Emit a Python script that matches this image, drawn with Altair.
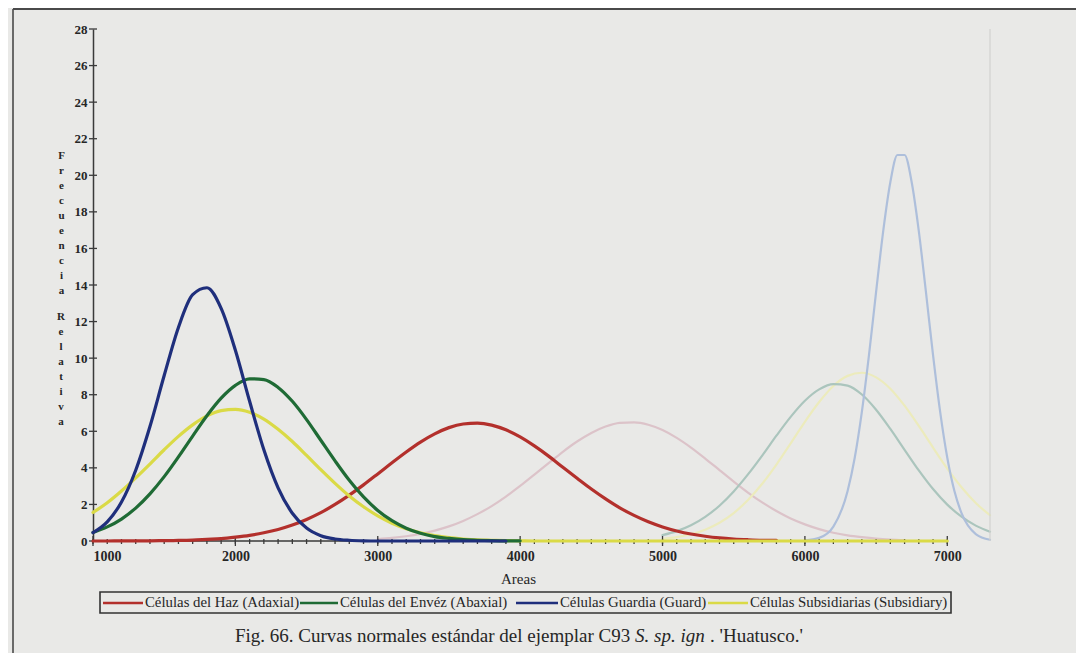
import altair as alt
import pandas as pd

# ---------------- data ----------------
AREAS = list(range(1000, 7001, 100))           # x grid, 100-unit steps
X_LABELS = [1000, 2000, 3000, 4000, 5000, 6000, 7000]
Y_TICKS = [0, 2, 4, 6, 8, 10, 12, 14, 16, 18, 20, 22, 24, 26, 28]

SERIES = [
    "Células del Haz (Adaxial)",
    "Células del Envéz (Abaxial)",
    "Células Guardia (Guard)",
    "Células Subsidiarias (Subsidiary)",
]

# Células del Haz (Adaxial): 1000 .. 5800
HAZ = [0.00, 0.00, 0.01, 0.01, 0.01, 0.02, 0.03, 0.05, 0.09, 0.13,
       0.21, 0.31, 0.45, 0.63, 0.87, 1.18, 1.55, 2.00, 2.51, 3.07,
       3.67, 4.28, 4.87, 5.41, 5.86, 6.20, 6.40, 6.45, 6.34, 6.08,
       5.69, 5.20, 4.64, 4.03, 3.43, 2.84, 2.30, 1.81, 1.40, 1.05,
       0.77, 0.55, 0.38, 0.26, 0.17, 0.11, 0.07, 0.04, 0.03]

# Células del Envéz (Abaxial): 1000 .. 4000
ENVEZ = [0.47, 0.77, 1.20, 1.80, 2.58, 3.52, 4.60, 5.74, 6.85, 7.81,
         8.51, 8.87, 8.83, 8.40, 7.64, 6.64, 5.51, 4.38, 3.32, 2.41,
         1.67, 1.11, 0.70, 0.42, 0.24, 0.14, 0.07, 0.04, 0.02, 0.01,
         0.01]

# Células Guardia (Guard): 1000 .. 3900
GUARDIA = [0.46, 1.05, 2.13, 3.87, 6.26, 9.05, 11.68, 13.47, 13.85, 12.72,
           10.43, 7.64, 4.99, 2.91, 1.52, 0.71, 0.29, 0.11, 0.04, 0.01,
           0.00, 0.00, 0.00, 0.00, 0.00, 0.00, 0.00, 0.00, 0.00, 0.00]

# Células Subsidiarias (Subsidiary): 1000 .. 7000
SUBSID = [1.56, 2.09, 2.73, 3.45, 4.21, 4.99, 5.72, 6.35, 6.84, 7.13,
          7.20, 7.04, 6.67, 6.11, 5.44, 4.68, 3.90, 3.15, 2.46, 1.87,
          1.37, 0.97, 0.67, 0.45, 0.29, 0.18, 0.11, 0.06, 0.04, 0.02,
          0.01, 0.00, 0.00, 0.00, 0.00, 0.00, 0.00, 0.00, 0.00, 0.00,
          0.00, 0.00, 0.00, 0.00, 0.00, 0.00, 0.00, 0.00, 0.00, 0.00,
          0.00, 0.00, 0.00, 0.00, 0.00, 0.00, 0.00, 0.00, 0.00, 0.00,
          0.00]

# faint curves showing through from the reverse side of the page
GHOST_RED_X = list(range(3000, 6701, 100))
GHOST_RED = [0.11, 0.17, 0.26, 0.39, 0.57, 0.80, 1.10, 1.47, 1.91, 2.43,
             3.01, 3.63, 4.26, 4.88, 5.44, 5.91, 6.26, 6.46, 6.49, 6.36,
             6.07, 5.64, 5.11, 4.51, 3.88, 3.25, 2.65, 2.11, 1.64, 1.23,
             0.91, 0.65, 0.45, 0.31, 0.21, 0.13, 0.08, 0.05]
GHOST_GREEN_X = list(range(5000, 7301, 100))
GHOST_GREEN = [0.32, 0.54, 0.86, 1.32, 1.93, 2.71, 3.64, 4.67, 5.76, 6.79,
               7.67, 8.29, 8.58, 8.50, 8.01, 7.18, 6.13, 4.99, 3.86, 2.84,
               1.99, 1.33, 0.84, 0.51]
GHOST_YELLOW_X = list(range(5000, 7301, 100))
GHOST_YELLOW = [0.12, 0.21, 0.37, 0.62, 1.00, 1.53, 2.24, 3.13, 4.18, 5.34,
                6.52, 7.60, 8.48, 9.03, 9.20, 8.95, 8.33, 7.40, 6.29, 5.11,
                3.96, 2.94, 2.08, 1.41]
GHOST_BLUE_X = [6000, 6100, 6200, 6300, 6350, 6400, 6450, 6500, 6550, 6600,
                6650, 6700, 6750, 6800, 6850, 6900, 6950, 7000, 7050, 7100,
                7200, 7300]
GHOST_BLUE = [0.03, 0.17, 0.79, 2.73, 4.55, 7.06, 10.16, 13.62, 16.95, 19.62,
              21.11, 21.11, 19.62, 16.95, 13.62, 10.16, 7.06, 4.55, 2.73, 1.52,
              0.38, 0.07]

Y_TITLE_1 = ["F", "r", "e", "c", "u", "e", "n", "c", "i", "a"]
Y_TITLE_2 = ["R", "e", "l", "a", "t", "i", "v", "a"]
CAPTION_1 = "Fig. 66. Curvas normales estándar del ejemplar C93"
CAPTION_2 = "S. sp. ign"
CAPTION_3 = ". 'Huatusco.'"

# ---------------- styling ----------------
FONT = "Liberation Serif"
INK = "#262626"
BG = "#e9e9e7"
COLORS = ["#b3302c", "#1f6b35", "#1f2f7c", "#dada46"]
GHOST = {"red": "#dcc3c9", "green": "#abc5bd", "blue": "#aebfdb", "yellow": "#ecebbc"}

x_scale = alt.Scale(domain=[1000, 7300], nice=False, zero=False)
y_scale = alt.Scale(domain=[0, 28], nice=False)

x_axis = alt.Axis(values=X_LABELS, format="d", domain=False, ticks=False, grid=False,
                  labelFont=FONT, labelFontSize=14, labelFontWeight="bold",
                  labelColor=INK, labelPadding=8,
                  title="Areas", titleFont=FONT, titleFontSize=15,
                  titleFontWeight="normal", titleColor=INK,
                  titleX=425, titleY=37, titleBaseline="middle")
y_axis = alt.Axis(values=Y_TICKS, format="d", domain=True, domainColor="#3a3a3a",
                  domainWidth=1.5, ticks=False, grid=False,
                  labelFont=FONT, labelFontSize=13, labelFontWeight="bold",
                  labelColor=INK, labelPadding=6,
                  title=Y_TITLE_1, titleAngle=0, titleX=-32, titleY=126,
                  titleBaseline="middle", titleAlign="center",
                  titleFont=FONT, titleFontSize=11, titleFontWeight="bold",
                  titleColor=INK, titleLineHeight=15)


def X(field):
    return alt.X(field, scale=x_scale, axis=x_axis, title="Areas")


def Y(field):
    return alt.Y(field, scale=y_scale, axis=y_axis, title=Y_TITLE_1)


def curve(xs, ys, color, width):
    df = pd.DataFrame({"Areas": xs[:len(ys)], "Frecuencia": ys})
    return alt.Chart(df).mark_line(
        color=color, strokeWidth=width, interpolate="monotone",
        strokeCap="round", strokeJoin="round"
    ).encode(x=X("Areas:Q"), y=Y("Frecuencia:Q"))


ONE = pd.DataFrame({"k": [0]})


def deco_rule(color, width, **enc):
    return alt.Chart(ONE).mark_rule(color=color, strokeWidth=width).encode(**enc)


def deco_text(txt, x, y, size, align="left", style="normal", weight="normal", line_height=None):
    kw = {}
    if line_height is not None:
        kw["lineHeight"] = line_height
    return alt.Chart(ONE).mark_text(
        text=txt, font=FONT, fontSize=size, fontStyle=style, fontWeight=weight,
        color=INK, align=align, baseline="middle", **kw
    ).encode(x=alt.value(x), y=alt.value(y))


layers = []

# ghost curves (reverse side of the sheet)
layers.append(curve(GHOST_RED_X, GHOST_RED, GHOST["red"], 2.2))
layers.append(curve(GHOST_YELLOW_X, GHOST_YELLOW, GHOST["yellow"], 2.2))
layers.append(curve(GHOST_GREEN_X, GHOST_GREEN, GHOST["green"], 2.2))
layers.append(curve(GHOST_BLUE_X, GHOST_BLUE, GHOST["blue"], 2.2))
layers.append(
    alt.Chart(pd.DataFrame({"a": [7300], "y0": [0], "y1": [28]}))
    .mark_rule(color="#d2d2d0", strokeWidth=1.2)
    .encode(x=X("a:Q"), y=Y("y0:Q"), y2="y1:Q")
)

# axis lines and cross ticks
layers.append(
    alt.Chart(pd.DataFrame({"a": [X_LABELS[0]], "b": [X_LABELS[-1]], "y": [0]}))
    .mark_rule(color="#3a3a3a", strokeWidth=1.5)
    .encode(x=X("a:Q"), x2="b:Q", y=Y("y:Q"))
)
layers.append(
    alt.Chart(pd.DataFrame({"v": Y_TICKS})).mark_rule(color="#3a3a3a", strokeWidth=1.3)
    .encode(y=Y("v:Q"), x=alt.value(-4), x2=alt.value(4))
)
layers.append(
    alt.Chart(pd.DataFrame({"v": AREAS})).mark_rule(color="#3a3a3a", strokeWidth=1.3)
    .encode(x=X("v:Q"), y=alt.value(510), y2=alt.value(515))
)
layers.append(
    alt.Chart(pd.DataFrame({"v": X_LABELS})).mark_rule(color="#3a3a3a", strokeWidth=1.3)
    .encode(x=X("v:Q"), y=alt.value(507), y2=alt.value(517))
)

# second word of the stacked y-axis title
layers.append(deco_text(Y_TITLE_2, -32, 288, 11, align="center", weight="bold", line_height=15))

# main curves
layers.append(curve(AREAS, HAZ, COLORS[0], 3.2))
layers.append(curve(AREAS, SUBSID, COLORS[3], 3.2))
layers.append(curve(AREAS, ENVEZ, COLORS[1], 3.2))
layers.append(curve(AREAS, GUARDIA, COLORS[2], 3.2))

# page frame
layers.append(deco_rule("#4a4a4a", 1.6, x=alt.value(-80), y=alt.value(-20), y2=alt.value(640)))
layers.append(deco_rule("#4a4a4a", 1.8, x=alt.value(-80), x2=alt.value(985), y=alt.value(-20)))
layers.append(deco_rule("#c9c9c7", 1.2, x=alt.value(984), y=alt.value(-20), y2=alt.value(640)))

# legend box
layers.append(
    alt.Chart(ONE).mark_rect(fillOpacity=0, stroke="#333333", strokeWidth=1.6).encode(
        x=alt.value(7), x2=alt.value(858), y=alt.value(563), y2=alt.value(584))
)
LEG_LINE = [(10, 50), (207, 245), (423, 465), (615, 655)]
LEG_TEXT = [52, 247, 467, 657]
for i, name in enumerate(SERIES):
    layers.append(deco_rule(COLORS[i], 2.6, x=alt.value(LEG_LINE[i][0]),
                            x2=alt.value(LEG_LINE[i][1]), y=alt.value(574)))
    layers.append(deco_text(name, LEG_TEXT[i], 574, 14.8))

# caption
layers.append(deco_text(CAPTION_1, 142, 607, 19))
layers.append(deco_text(CAPTION_2, 542, 607, 19, style="italic"))
layers.append(deco_text(CAPTION_3, 617, 607, 19))

chart = alt.layer(*layers).properties(
    width=897, height=512,
    autosize=alt.AutoSizeParams(type="none"),
    padding={"left": 85, "top": 21, "right": 86, "bottom": 112},
    background=BG,
).configure_view(stroke=None)

chart.save("out.html", embed_options={"renderer": "svg", "actions": False})
